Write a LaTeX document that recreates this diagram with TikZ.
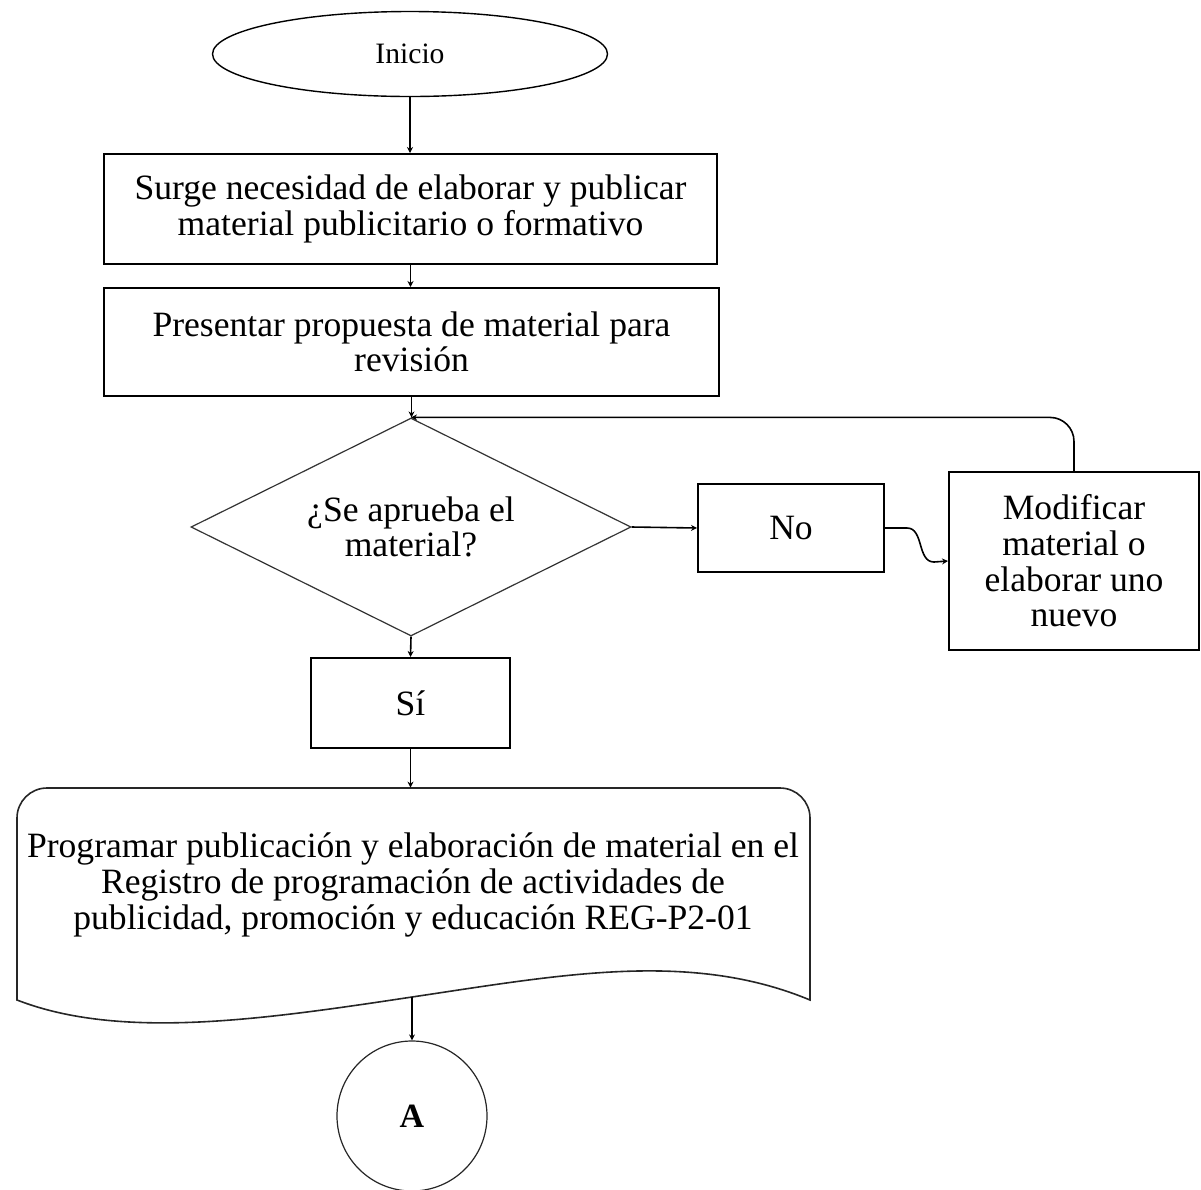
\documentclass[tikz,border=0pt]{standalone}
\usepackage{fontspec}
\setmainfont{Liberation Serif}
\usetikzlibrary{shapes.geometric,arrows.meta}
\begin{document}
\begin{tikzpicture}[x=0.5pt,y=-0.5pt,
  base/.style={draw=black,align=center,inner sep=0pt,font=\fontsize{17.8}{17.8}\selectfont},
  procbox/.style={base,rectangle,line width=1pt},
  startend/.style={base,ellipse,line width=0.7pt,font=\fontsize{14.8}{15}\selectfont},
  decision/.style={draw=black!80,diamond,line width=0.6pt,inner sep=0pt},
  link/.style={draw=black,line width=0.8pt,-{Stealth[length=3pt,width=3pt]}},
  connector/.style={base,circle,line width=0.6pt,draw=black!85,font=\fontsize{17}{17}\selectfont\bfseries}
]
\useasboundingbox (0,0) rectangle (1201,1190);

\node[startend,minimum width=197.5pt,minimum height=42.5pt] (inicio) at (410,54) {Inicio};
\node[procbox,minimum width=306.5pt,minimum height=55pt] (surge) at (410.5,209)
  {Surge necesidad de elaborar y publicar\\material publicitario o formativo};
\node[procbox,minimum width=307.5pt,minimum height=54pt] (prop) at (411.5,342)
  {Presentar propuesta de material para\\revisión};
\node[decision,minimum width=220pt,minimum height=109pt,
  label={[base,draw=none]center:¿Se aprueba el\\material?}] (dec) at (411,527) {};
\node[procbox,minimum width=93pt,minimum height=44pt] (no) at (791,528) {No};
\node[procbox,minimum width=125pt,minimum height=89pt] (mod) at (1074,561)
  {Modificar\\material o\\elaborar uno\\nuevo};
\node[procbox,minimum width=99.5pt,minimum height=45pt] (si) at (410.5,703) {Sí};

% document shape: rounded top corners, wavy bottom edge
\draw[line width=0.8pt,draw=black!85]
  (17,1000) [rounded corners=15pt] -- (17,788) -- (810,788) [sharp corners] -- (810,1000)
  .. controls (690,950) and (560,975) .. (412,997)
  .. controls (260,1020) and (120,1040) .. (17,1000) -- cycle;
\node[base,draw=none,minimum width=396pt,minimum height=106pt] (doc) at (412,894) {};
\node[base,draw=none] (doctext) at (413,885)
  {Programar publicación y elaboración de material en el\\Registro de programación de actividades de\\publicidad, promoción y educación REG-P2-01};
\coordinate (docbot) at (412,997);

\node[connector,minimum size=75pt] (a) at (412,1116) {A};

\draw[link] (inicio.south) -- (inicio.south |- surge.north);
\draw[link] (surge.south) -- (surge.south |- prop.north);
\draw[link] (prop.south) -- (prop.south |- dec.north);
\draw[link] (dec.east) -- (no.west);
\draw[link] (no.east) -- (907,528) to[out=0,in=180] (934,562) -- (mod.west);
\draw[link,rounded corners=12pt] (mod.north) |- (dec.north);
\draw[link] (dec.south) -- (si.north);
\draw[link] (si.south) -- (si.south |- doc.north);
\draw[link] (docbot) -- (a.north);
\end{tikzpicture}
\end{document}
